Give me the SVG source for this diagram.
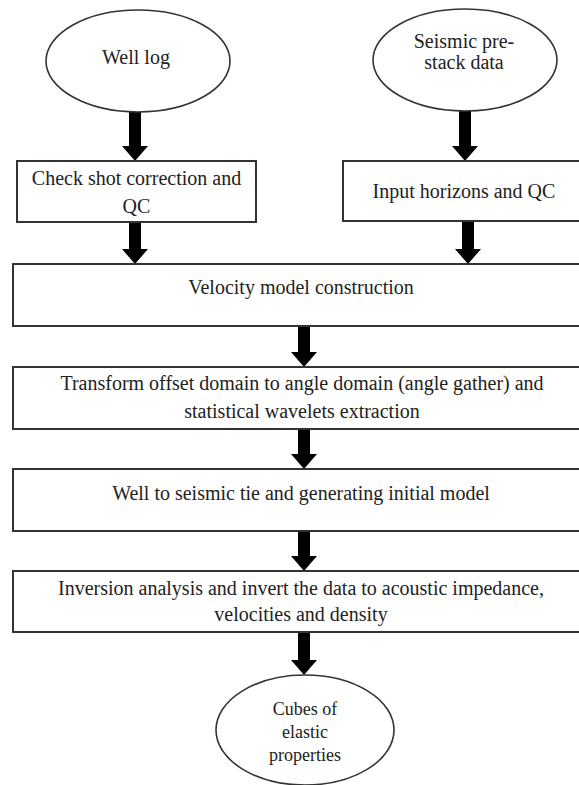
<svg xmlns="http://www.w3.org/2000/svg" width="579" height="785" viewBox="0 0 579 785">
<defs>
<style>
.box{fill:#fff;stroke:#333;stroke-width:2}
.ell{fill:#fff;stroke:#333;stroke-width:1.6}
.t{font-family:"Liberation Serif","Times New Roman",serif;font-size:20px;fill:#222;text-anchor:middle}
.ts{font-family:"Liberation Serif","Times New Roman",serif;font-size:18px;fill:#222;text-anchor:middle}
.arr{fill:#000}
</style>
<path id="arrow" d="M-6,0 H6 V-15 H13 L0,0 L-13,-15 H-6 Z"/>
</defs>
<rect width="579" height="785" fill="#fff"/>
<g id="connectors" class="arr">
<path d="M129,112 H141 V146 H148 L135,161 L122,146 H129 Z"/>
<path d="M129,222 H141 V249 H148 L135,264 L122,249 H129 Z"/>
<path d="M459,110 H471 V146 H478 L465,161 L452,146 H459 Z"/>
<path d="M462,221 H474 V249 H481 L468,264 L455,249 H462 Z"/>
<path d="M298,326 H310 V352 H317 L304,367 L291,352 H298 Z"/>
<path d="M298,429 H310 V454 H317 L304,469 L291,454 H298 Z"/>
<path d="M298,531 H310 V556 H317 L304,571 L291,556 H298 Z"/>
<path d="M298,632 H310 V660 H317 L304,675 L291,660 H298 Z"/>
</g>
<g id="well-log">
<ellipse class="ell" cx="138" cy="61" rx="92" ry="51"/>
<text class="t" x="136" y="64">Well log</text>
</g>
<g id="seismic">
<ellipse class="ell" cx="465" cy="60" rx="92" ry="51"/>
<text class="t" x="464" y="48">Seismic pre-</text>
<text class="t" x="464" y="69">stack data</text>
</g>
<g id="check-shot">
<rect class="box" x="17" y="161" width="239" height="61"/>
<text class="t" x="136.5" y="185">Check shot correction and</text>
<text class="t" x="136.5" y="213">QC</text>
</g>
<g id="input-horizons">
<rect class="box" x="343" y="161" width="242" height="60"/>
<text class="t" x="464" y="198">Input horizons and QC</text>
</g>
<g id="velocity">
<rect class="box" x="13" y="264" width="580" height="62"/>
<text class="t" x="301" y="294">Velocity model construction</text>
</g>
<g id="transform">
<rect class="box" x="13" y="367" width="580" height="62"/>
<text class="t" x="302" y="390">Transform offset domain to angle domain (angle gather) and</text>
<text class="t" x="302" y="418">statistical wavelets extraction</text>
</g>
<g id="well-tie">
<rect class="box" x="13" y="469" width="580" height="62"/>
<text class="t" x="301" y="500">Well to seismic tie and generating initial model</text>
</g>
<g id="inversion">
<rect class="box" x="13" y="571" width="580" height="61"/>
<text class="t" x="301" y="595">Inversion analysis and invert the data to acoustic impedance,</text>
<text class="t" x="301" y="621">velocities and density</text>
</g>
<g id="cubes">
<ellipse class="ell" cx="305" cy="730" rx="89" ry="55"/>
<text class="ts" x="305" y="715">Cubes of</text>
<text class="ts" x="305" y="738">elastic</text>
<text class="ts" x="305" y="761">properties</text>
</g>
</svg>
